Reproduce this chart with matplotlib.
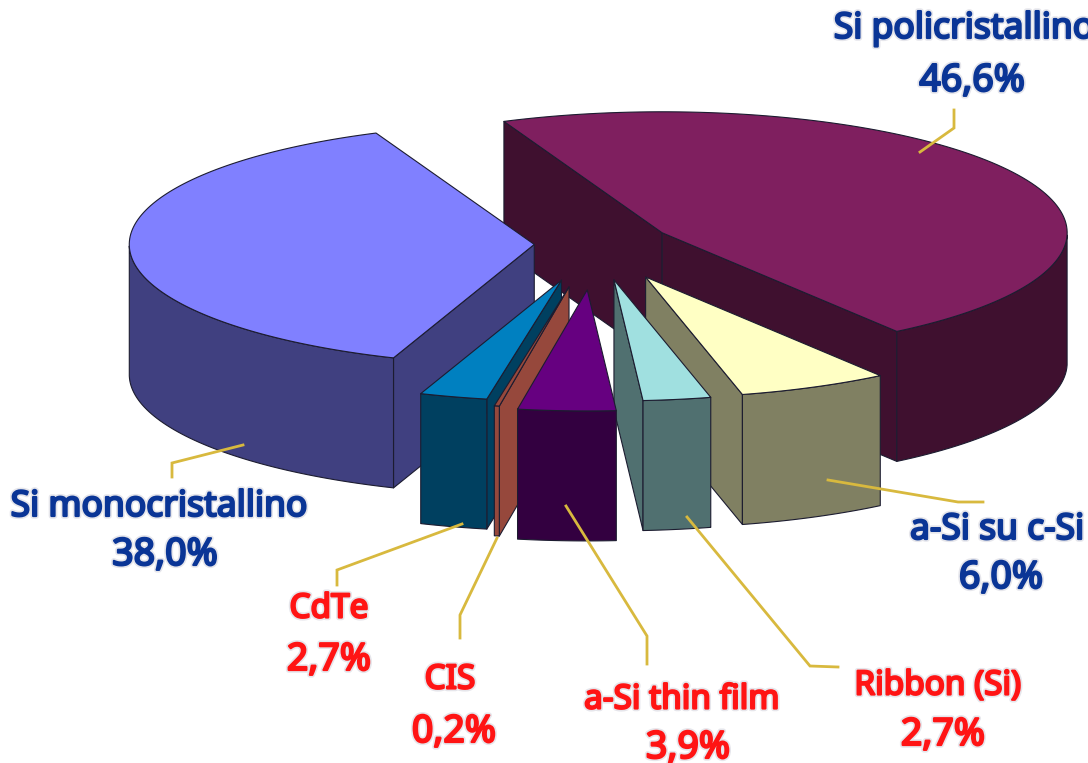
import matplotlib
matplotlib.use('Agg')
import matplotlib.pyplot as plt
import matplotlib.patheffects as pe
import numpy as np

plt.rcParams['font.family'] = ['Noto Sans', 'DejaVu Sans']

# clockwise from the top-left edge of the big slice
names = ['Si policristallino', 'a-Si su c-Si', 'Ribbon (Si)', 'a-Si thin film', 'CIS', 'CdTe', 'Si monocristallino']
values = [46.6, 6.0, 2.7, 3.9, 0.2, 2.7, 38.0]
value_labels = ['46,6%', '6,0%', '2,7%', '3,9%', '0,2%', '2,7%', '38,0%']
explode = [0.19, 0.30, 0.30, 0.38, 0.36, 0.31, 0.15]
top_colors = ['#7f1f5f', '#ffffc4', '#a0e0e0', '#660080', '#96483c', '#0080c0', '#8080ff']
side_colors = ['#3f102f', '#808062', '#507070', '#330040', '#96483c', '#004060', '#404080']
label_colors = ['#0a3596', '#0a3596', '#ff1414', '#ff1414', '#ff1414', '#ff1414', '#0a3596']

# name (x, y) and value (x, y) centres, and leader polyline, in picture pixels
name_pos = [(964, 29), (997, 530), (938, 686), (682, 700), (450, 680), (329, 609), (159, 507)]
value_pos = [(972, 81), (1001, 578), (943, 735), (688, 748), (454, 732), (329, 660), (165, 555)]
leaders = [
    [(920, 152), (954, 128), (954, 110)],
    [(828, 480), (958, 502), (983, 502)],
    [(687, 517), (810, 666), (838, 667)],
    [(566, 506), (647, 636), (647, 664)],
    [(497, 538), (460, 615), (460, 638)],
    [(462, 524), (337, 570), (337, 585)],
    [(243, 445), (172, 463), (172, 477)],
]

start_angle = 113.0
cx, cy = 595.0, 244.0
rx, ry = 405.0, 121.0
depth = 130.0
edge = dict(edgecolor='#1c1c30', linewidth=0.8, joinstyle='round')


def rim_point(ang, ox, oy):
    a = np.radians(ang)
    return ox + rx * np.cos(a), oy - ry * np.sin(a)


def draw_slice(ax, a0, a1, expl, top_c, side_c):
    # a0 > a1, the slice runs clockwise
    mid = np.radians((a0 + a1) / 2)
    ox = cx + expl * rx * np.cos(mid)
    oy = cy - expl * ry * np.sin(mid)
    angs = np.linspace(a0, a1, 120)
    xs = ox + rx * np.cos(np.radians(angs))
    ys = oy - ry * np.sin(np.radians(angs))

    # radial walls, only the ones turned to the viewer
    for ang, normal in ((a0, a0 + 90), (a1, a1 - 90)):
        if np.sin(np.radians(normal)) < 0:
            px, py = rim_point(ang, ox, oy)
            ax.fill([ox, px, px, ox], [oy, py, py + depth, oy + depth], facecolor=side_c, **edge)

    # outer wall, front half of the rim only
    front = np.sin(np.radians(angs)) < 0.0
    if front.any():
        fx, fy = xs[front], ys[front]
        ax.fill(np.r_[fx, fx[::-1]], np.r_[fy, fy[::-1] + depth], facecolor=side_c, **edge)

    ax.fill(np.r_[ox, xs], np.r_[oy, ys], facecolor=top_c, **edge)


fig = plt.figure(figsize=(10.88, 7.63), dpi=100)
ax = fig.add_axes([0, 0, 1, 1])
ax.set_xlim(0, 1088)
ax.set_ylim(763, 0)
ax.axis('off')

sweep = 360.0 * np.array(values) / np.sum(values)
ends = start_angle - np.cumsum(sweep)
starts = ends + sweep
mids = (starts + ends) / 2

# painter's order, back slices first
for i in np.argsort(-np.sin(np.radians(mids))):
    draw_slice(ax, starts[i], ends[i], explode[i], top_colors[i], side_colors[i])

for name, val, col, npos, vpos, pts in zip(names, value_labels, label_colors, name_pos, value_pos, leaders):
    ax.plot(*zip(*pts), color='#d8b93e', lw=2.0, solid_joinstyle='miter', zorder=5)
    name_size = 25.5 if col == '#0a3596' else 24
    for txt, pos, size in ((name, npos, name_size), (val, vpos, 27)):
        t = ax.text(pos[0], pos[1], txt, color=col, fontsize=size, ha='center', va='center', zorder=6)
        # the font has no bold cut here, so thicken it, with the soft drop shadow of the original
        t.set_path_effects([pe.Stroke(linewidth=4.0, foreground='#b8b8c8', alpha=0.35),
                            pe.Stroke(linewidth=1.6, foreground=col), pe.Normal()])

fig.savefig('out.png', dpi=100)
